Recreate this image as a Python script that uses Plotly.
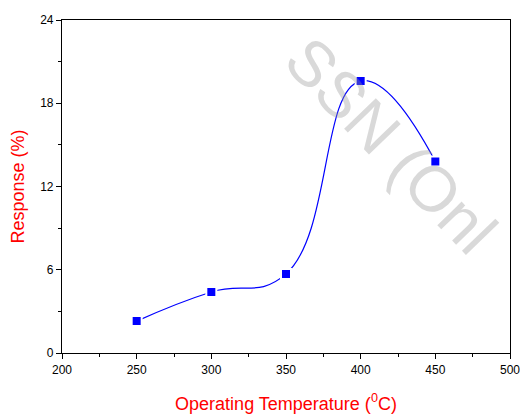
import plotly.graph_objects as go

temperature = [250, 300, 350, 400, 450]
response = [2.3, 4.4, 5.7, 19.6, 13.8]
x_ticks = [200, 250, 300, 350, 400, 450, 500]
y_ticks = [0, 6, 12, 18, 24]

fig = go.Figure()
fig.add_trace(go.Scatter(
    x=temperature, y=response, mode="lines+markers",
    line=dict(color="#0000ff", width=1.2, shape="spline", smoothing=1.3),
    marker=dict(symbol="square", size=10, color="#0000ff",
                line=dict(color="white", width=2)),
    showlegend=False, cliponaxis=False,
))

# faint watermark seen in the reference
fig.add_annotation(
    text="SSN (Onl", x=420, y=15.0, xref="x", yref="y",
    showarrow=False, textangle=46,
    font=dict(family="Liberation Sans, Arial", size=64, color="rgba(150,150,150,0.36)"),
)

axis_common = dict(
    showline=True, linecolor="black", linewidth=1.2, mirror=True,
    ticks="outside", ticklen=5, tickwidth=1, tickcolor="black",
    showgrid=False, zeroline=False, automargin=False,
    ticklabeloverflow="allow",
    tickfont=dict(family="Liberation Sans, Arial", size=12, color="black"),
    minor=dict(ticks="outside", ticklen=3, tickcolor="black", tickwidth=1),
)

fig.update_xaxes(range=[200, 500], tickvals=x_ticks, minor_dtick=25,
                 title=dict(text="Operating Temperature (<sup>0</sup>C)",
                            font=dict(family="Liberation Sans, Arial", size=18, color="red"),
                            standoff=22),
                 **axis_common)
fig.update_yaxes(range=[0, 24], tickvals=y_ticks, minor_dtick=3,
                 title=dict(text="Response (%)",
                            font=dict(family="Liberation Sans, Arial", size=18, color="red"),
                            standoff=10),
                 **axis_common)

fig.update_layout(
    width=520, height=414,
    margin=dict(l=62, r=10, t=20, b=61),
    plot_bgcolor="white", paper_bgcolor="white",
)

fig.write_html("out.html")
